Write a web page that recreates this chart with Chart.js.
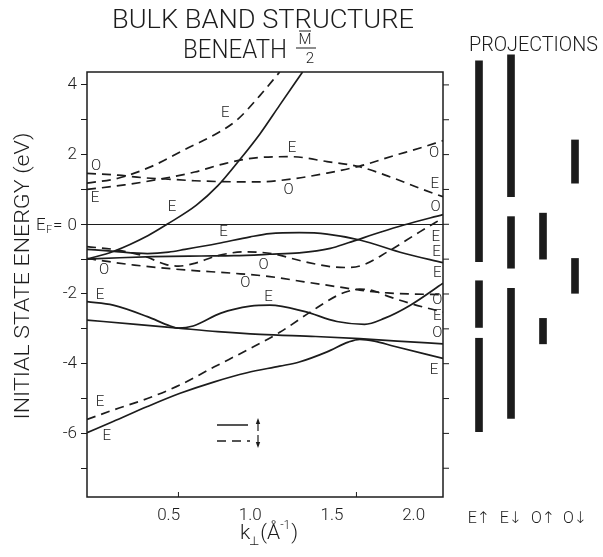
<!DOCTYPE html>
<html lang="en">
<head>
  <meta charset="UTF-8">
  <title>Bulk Band Structure Beneath M/2</title>
  <script src="https://cdn.jsdelivr.net/npm/chart.js"></script>
  <style>
    body { margin: 0; background: #fff; }
    #wrap { position: relative; width: 603px; height: 557px; }
    .box { position: absolute; top: 0; height: 557px; }
  </style>
</head>
<body>
<div id="wrap">
  <div class="box" style="left:0;width:603px"><canvas id="bands"></canvas></div>
  <div class="box" style="left:450px;width:153px"><canvas id="proj"></canvas></div>
</div>

<script>
  // axes
  const K_MIN = 0, K_MAX = 2.18;
  const E_MIN = -7.825, E_MAX = 4.37;
  const kTicks = [0.5, 1.0, 1.5, 2.0];
  const energyTicks = [4, 3, 2, 1, 0, -1, -2, -3, -4, -5, -6, -7];
  const energyLabels = [4, 2, -2, -4, -6];
  const touchK = [0.56, 1.65];

  // spin-up bands (solid)
  const upSteepK = [0, 0.16, 0.375, 0.49, 0.67, 0.8, 0.94, 1.06, 1.18, 1.32];
  const upSteepE = [-1.0, -0.78, -0.32, 0.0, 0.55, 1.1, 1.88, 2.6, 3.42, 4.37];
  const upUpperK = [0, 0.15, 0.37, 0.5, 0.6, 0.8, 1.0, 1.12, 1.3, 1.47, 1.67, 1.94, 2.18];
  const upUpperE = [-0.72, -0.77, -0.84, -0.8, -0.72, -0.55, -0.36, -0.27, -0.24, -0.28, -0.45, -0.83, -1.1];
  const upFlatK = [0, 0.2, 0.4, 0.7, 0.9, 1.12, 1.3, 1.49, 1.6, 1.8, 1.94, 2.18];
  const upFlatE = [-1.0, -0.96, -0.93, -0.91, -0.9, -0.86, -0.82, -0.69, -0.53, -0.22, -0.02, 0.28];
  const upDipK = [0, 0.16, 0.37, 0.51, 0.56, 0.65, 0.82, 1.0, 1.12, 1.33, 1.53, 1.7, 1.82, 1.98, 2.18];
  const upDipE = [-2.22, -2.32, -2.65, -2.92, -2.98, -2.92, -2.55, -2.35, -2.32, -2.5, -2.79, -2.87, -2.7, -2.32, -1.69];
  const upLowK = [0, 0.3, 0.56, 0.8, 1.06, 1.4, 1.67, 1.9, 2.18];
  const upLowE = [-2.75, -2.87, -2.98, -3.08, -3.16, -3.22, -3.28, -3.35, -3.43];
  const upBottomK = [0, 0.16, 0.37, 0.57, 0.78, 0.98, 1.18, 1.3, 1.47, 1.6, 1.67, 1.76, 1.88, 2.18];
  const upBottomE = [-5.98, -5.66, -5.23, -4.85, -4.52, -4.26, -4.07, -3.95, -3.66, -3.38, -3.3, -3.35, -3.5, -3.85];

  // spin-down bands (dashed)
  const downSteepK = [0, 0.19, 0.4, 0.6, 0.8, 0.92, 1.06, 1.18];
  const downSteepE = [1.18, 1.32, 1.67, 2.15, 2.62, 3.0, 3.7, 4.37];
  const downMidK = [0, 0.23, 0.45, 0.66, 0.85, 1.06, 1.25, 1.47, 1.67, 1.88, 2.04, 2.18];
  const downMidE = [1.0, 1.13, 1.3, 1.5, 1.75, 1.92, 1.94, 1.8, 1.65, 1.32, 1.03, 0.79];
  const downOK = [0, 0.19, 0.36, 0.48, 0.66, 0.9, 1.06, 1.27, 1.47, 1.67, 1.88, 2.04, 2.18];
  const downOE = [1.46, 1.41, 1.33, 1.3, 1.25, 1.22, 1.22, 1.31, 1.47, 1.67, 1.97, 2.19, 2.4];
  const downAK = [0, 0.19, 0.36, 0.48, 0.56, 0.66, 0.8, 0.97, 1.13, 1.33, 1.5, 1.6, 1.69, 1.84, 2.04, 2.18];
  const downAE = [-0.64, -0.74, -0.93, -1.15, -1.2, -1.12, -0.9, -0.79, -0.84, -1.07, -1.22, -1.24, -1.17, -0.79, -0.21, 0.18];
  const downBK = [0, 0.1, 0.29, 0.6, 0.91, 1.12, 1.33, 1.53, 1.67, 1.84, 2.0, 2.18];
  const downBE = [-0.98, -1.05, -1.17, -1.31, -1.41, -1.5, -1.65, -1.79, -1.89, -1.97, -2.0, -2.02];
  const downBottomK = [0, 0.16, 0.37, 0.57, 0.78, 0.98, 1.18, 1.37, 1.53, 1.6, 1.67, 1.75, 1.84, 1.98, 2.18];
  const downBottomE = [-5.6, -5.33, -5.0, -4.61, -4.09, -3.61, -3.1, -2.51, -2.05, -1.92, -1.86, -1.9, -2.06, -2.27, -2.52];

  // symmetry labels on the bands
  const bandLabelText = ['O','E','E','E','E','O','O','E','O','O','E','O','E','E','E','O','E','O','E','E','O','E','E','E'];
  const bandLabelK = [0.055,0.049,0.847,0.52,0.836,0.104,1.082,1.256,1.235,2.125,2.129,2.135,2.135,2.141,2.145,2.145,2.145,2.145,2.125,0.08,0.969,1.112,0.08,0.121];
  const bandLabelE = [1.67,0.75,3.19,0.5,-0.24,-1.33,-1.17,2.18,0.98,2.04,1.16,0.5,-0.36,-0.79,-1.41,-2.17,-2.65,-3.13,-4.18,-2.03,-1.69,-2.08,-5.12,-6.09];

  // projections (energy ranges, eV)
  const projCategories = ['E\u2191', 'E\u2193', 'O\u2191', 'O\u2193'];
  const eUpRanges = [[-1.07, 4.69], [-2.96, -1.62], [-5.95, -3.27]];
  const eDownRanges = [[0.79, 4.86], [-1.26, 0.22], [-5.57, -1.84]];
  const oUpRanges = [[-1.0, 0.32], [-3.43, -2.7]];
  const oDownRanges = [[1.18, 2.42], [-1.98, -0.98]];

  const INK = '#1c1c1c';
  const FONT = 'Roboto, "DejaVu Sans", sans-serif';
  const DASH = [9, 6];

  Chart.defaults.animation = false;
  Chart.defaults.font.family = FONT;
  Chart.defaults.font.weight = '300';
  Chart.defaults.color = INK;

  function band(k, e, dashed) {
    return {
      data: k.map((v, i) => ({ x: v, y: e[i] })),
      borderColor: INK,
      borderWidth: 1.7,
      borderDash: dashed ? DASH : [],
      pointRadius: 0,
      cubicInterpolationMode: 'monotone'
    };
  }

  function font(size) { return '300 ' + size + 'px ' + FONT; }

  // draws text stretched to a given width (hand lettering is wider than the font)
  function fitText(ctx, text, x, y, width, align) {
    const w = ctx.measureText(text).width;
    ctx.save();
    ctx.translate(x, y);
    ctx.scale(width / w, 1);
    ctx.textAlign = align;
    ctx.fillText(text, 0, 0);
    ctx.restore();
  }

  function arrow(ctx, x, y0, y1) {
    const d = y1 < y0 ? 1 : -1;
    ctx.beginPath(); ctx.moveTo(x, y0); ctx.lineTo(x, y1 + d * 4); ctx.stroke();
    ctx.beginPath(); ctx.moveTo(x, y1); ctx.lineTo(x - 2.2, y1 + d * 6); ctx.lineTo(x + 2.2, y1 + d * 6);
    ctx.closePath(); ctx.fill();
  }

  const decor = {
    id: 'decor',
    afterDraw(chart) {
      const { ctx, chartArea: a, scales: { x, y } } = chart;
      ctx.save();
      ctx.strokeStyle = INK; ctx.fillStyle = INK;

      // frame
      ctx.lineWidth = 1.5;
      ctx.strokeRect(a.left, a.top, a.right - a.left, a.bottom - a.top);

      // right ticks and the two touching-point ticks
      ctx.lineWidth = 1;
      ctx.beginPath();
      energyTicks.forEach(v => {
        const py = y.getPixelForValue(v);
        ctx.moveTo(a.right, py); ctx.lineTo(a.right + 6, py);
      });
      touchK.forEach(k => {
        const px = x.getPixelForValue(k);
        ctx.moveTo(px, a.bottom); ctx.lineTo(px, a.bottom - 5);
      });
      ctx.stroke();

      // band labels
      ctx.font = font(15);
      ctx.textAlign = 'center'; ctx.textBaseline = 'middle';
      bandLabelText.forEach((t, i) => {
        ctx.fillText(t, x.getPixelForValue(bandLabelK[i]), y.getPixelForValue(bandLabelE[i]));
      });

      // E_F = 0
      const y0 = y.getPixelForValue(0) + 6;
      ctx.textBaseline = 'alphabetic'; ctx.textAlign = 'left';
      ctx.font = font(17);
      ctx.fillText('E', 36, y0);
      ctx.fillText('=', 53, y0);
      ctx.textAlign = 'right';
      ctx.fillText('0', 77, y0);
      ctx.textAlign = 'left';
      ctx.font = font(11);
      ctx.fillText('F', 46, y0 + 3);

      // axis titles
      ctx.save();
      ctx.translate(24, 276);
      ctx.rotate(-Math.PI / 2);
      ctx.font = font(21);
      ctx.textBaseline = 'middle';
      fitText(ctx, 'INITIAL STATE ENERGY (eV)', 0, 0, 287, 'center');
      ctx.restore();

      let tx = 240;
      const tb = 539;
      ctx.textAlign = 'left'; ctx.textBaseline = 'alphabetic';
      ctx.font = font(21);
      ctx.fillText('k', tx, tb); tx += ctx.measureText('k').width;
      ctx.font = font(12);
      ctx.fillText('\u22A5', tx - 1, tb + 6); tx += ctx.measureText('\u22A5').width;
      ctx.font = font(21);
      ctx.fillText('(\u00C5', tx, tb); tx += ctx.measureText('(\u00C5').width;
      ctx.font = font(12);
      ctx.fillText('-1', tx, tb - 10); tx += ctx.measureText('-1').width;
      ctx.font = font(21);
      ctx.fillText(')', tx + 1, tb);

      // titles
      ctx.font = font(25);
      fitText(ctx, 'BULK BAND STRUCTURE', 263, 28, 302, 'center');
      fitText(ctx, 'BENEATH', 183, 58, 104, 'left');
      ctx.font = font(15);
      ctx.textAlign = 'center';
      ctx.fillText('M', 305, 44);
      ctx.fillText('2', 310, 63);
      ctx.lineWidth = 1.2;
      ctx.beginPath();
      ctx.moveTo(299, 31); ctx.lineTo(311, 31);
      ctx.moveTo(296, 48); ctx.lineTo(316, 48);
      ctx.stroke();
      ctx.font = font(20);
      fitText(ctx, 'PROJECTIONS', 469, 51, 129, 'left');

      // spin legend
      ctx.lineWidth = 1.5;
      ctx.beginPath(); ctx.moveTo(217, 425); ctx.lineTo(248, 425); ctx.stroke();
      ctx.setLineDash(DASH);
      ctx.beginPath(); ctx.moveTo(217, 441); ctx.lineTo(250, 441); ctx.stroke();
      ctx.setLineDash([]);
      ctx.lineWidth = 1.2;
      arrow(ctx, 258, 431, 418);
      arrow(ctx, 258, 435, 448);

      ctx.restore();
    }
  };

  new Chart(document.getElementById('bands'), {
    type: 'line',
    data: {
      datasets: [
        band(upSteepK, upSteepE, false),
        band(upUpperK, upUpperE, false),
        band(upFlatK, upFlatE, false),
        band(upDipK, upDipE, false),
        band(upLowK, upLowE, false),
        band(upBottomK, upBottomE, false),
        band(downSteepK, downSteepE, true),
        band(downMidK, downMidE, true),
        band(downOK, downOE, true),
        band(downAK, downAE, true),
        band(downBK, downBE, true),
        band(downBottomK, downBottomE, true)
      ]
    },
    options: {
      responsive: true,
      maintainAspectRatio: false,
      layout: { padding: { left: 0, right: 160, top: 72, bottom: 0 } },
      plugins: { legend: { display: false }, tooltip: { enabled: false } },
      scales: {
        x: {
          type: 'linear', min: K_MIN, max: K_MAX,
          afterBuildTicks: s => { s.ticks = kTicks.map(v => ({ value: v })); },
          afterFit: s => { s.height = 60; },
          ticks: { callback: v => v.toFixed(1), font: { size: 17 }, padding: 9, color: INK },
          grid: { display: false, drawTicks: false },
          border: { display: false }
        },
        y: {
          type: 'linear', min: E_MIN, max: E_MAX,
          afterBuildTicks: s => { s.ticks = energyTicks.map(v => ({ value: v })); },
          afterFit: s => { s.width = 87; },
          ticks: {
            callback: v => energyLabels.includes(v) ? String(v) : '',
            font: { size: 17 }, padding: 4, color: INK
          },
          grid: {
            color: c => (c.tick && c.tick.value === 0) ? INK : 'transparent',
            tickColor: INK, tickLength: 6, lineWidth: 1
          },
          border: { display: false }
        }
      }
    },
    plugins: [decor]
  });

  const projSeries = [eUpRanges, eDownRanges, oUpRanges, oDownRanges];
  new Chart(document.getElementById('proj'), {
    type: 'bar',
    data: {
      labels: projCategories,
      datasets: [0, 1, 2].map(i => ({
        data: projSeries.map(s => s[i] || null),
        backgroundColor: INK,
        barThickness: 7,
        grouped: false,
        clip: false,
        borderSkipped: false
      }))
    },
    options: {
      responsive: true,
      maintainAspectRatio: false,
      layout: { padding: { left: 13, right: 12, top: 72, bottom: 0 } },
      plugins: { legend: { display: false }, tooltip: { enabled: false } },
      scales: {
        x: {
          afterFit: s => { s.height = 60; },
          ticks: { font: { size: 16 }, padding: 12, color: INK },
          grid: { display: false, drawTicks: false },
          border: { display: false }
        },
        y: { display: false, min: E_MIN, max: E_MAX }
      }
    }
  });
</script>
</body>
</html>
